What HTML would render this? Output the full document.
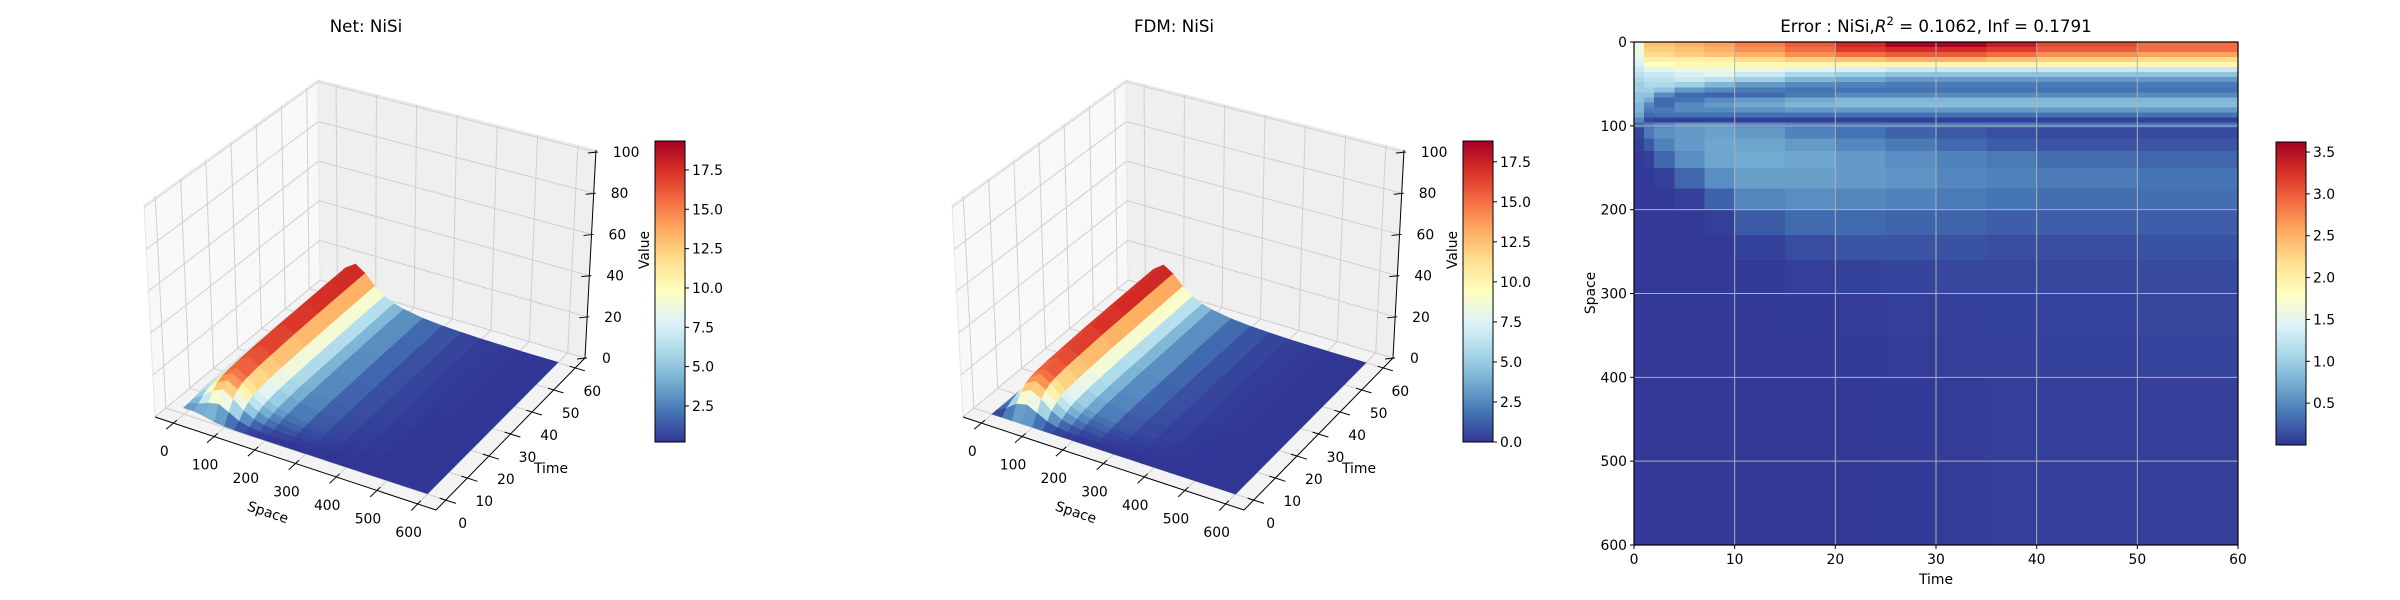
<!DOCTYPE html>
<html><head><meta charset="utf-8"><style>
html,body{margin:0;padding:0;background:#fff}
svg{display:block;font-family:"DejaVu Sans","Liberation Sans",sans-serif}
</style></head><body>
<svg id="fig" width="2400" height="600" viewBox="0 0 2400 600" xmlns="http://www.w3.org/2000/svg">
<rect width="2400" height="600" fill="#fff"/>
<defs>
<linearGradient id="cmapGrad" x1="0" y1="1" x2="0" y2="0">
<stop offset="0" stop-color="#313695"/><stop offset="0.1" stop-color="#4575b4"/><stop offset="0.2" stop-color="#74add1"/><stop offset="0.3" stop-color="#abd9e9"/><stop offset="0.4" stop-color="#e0f3f8"/><stop offset="0.5" stop-color="#ffffbf"/><stop offset="0.6" stop-color="#fee090"/><stop offset="0.7" stop-color="#fdae61"/><stop offset="0.8" stop-color="#f46d43"/><stop offset="0.9" stop-color="#d73027"/><stop offset="1" stop-color="#a50026"/>
</linearGradient>
</defs>
<g id="p1"></g>
<g id="p2"></g>
<g id="p3"></g>
</svg>
<script>
// ---------- data ----------
const spaceGrid = [0,25,50,75,100,125,150,175,200,250,300,350,400,450,500,550,600];
const timeGrid = [0,2,4,6,8,10,15,20,30,40,50,60];
const netValues = [
[3.0,3.0,2.2,1.0,0.5,0.3,0.2,0.2,0.2,0.2,0.2,0.2,0.2,0.2,0.2,0.2,0.2],
[3.2,4.5,6.5,7.5,5.0,2.5,1.2,0.6,0.4,0.3,0.2,0.2,0.2,0.2,0.2,0.2,0.2],
[3.5,6.5,10.4,12.5,9.5,5.5,3.0,1.8,1.1,0.6,0.4,0.3,0.2,0.2,0.2,0.2,0.2],
[4.0,7.8,12.5,15.0,12.0,7.5,4.5,2.8,1.8,0.9,0.5,0.35,0.25,0.2,0.2,0.2,0.2],
[4.5,8.5,13.6,16.4,13.4,8.8,5.5,3.6,2.4,1.2,0.7,0.45,0.3,0.25,0.2,0.2,0.2],
[4.8,8.8,14.1,17.0,14.0,9.4,6.2,4.1,2.9,1.5,0.85,0.5,0.35,0.25,0.2,0.2,0.2],
[5.0,9.2,14.7,17.8,14.7,10.0,6.8,4.6,3.3,1.8,1.0,0.6,0.4,0.3,0.22,0.2,0.2],
[5.2,9.4,15.0,18.1,15.0,10.3,7.0,4.9,3.5,2.0,1.1,0.7,0.45,0.3,0.23,0.2,0.2],
[5.3,9.7,15.5,18.7,15.5,10.7,7.3,5.0,3.7,2.1,1.2,0.75,0.48,0.33,0.24,0.2,0.2],
[5.4,9.8,15.7,19.0,15.7,10.8,7.4,5.1,3.7,2.15,1.25,0.78,0.5,0.34,0.25,0.2,0.2],
[5.5,9.9,15.9,19.2,15.9,10.9,7.5,5.2,3.8,2.2,1.3,0.8,0.5,0.35,0.25,0.2,0.2],
[5.5,10.0,16.0,19.3,16.0,11.0,7.5,5.2,3.8,2.2,1.3,0.8,0.5,0.35,0.25,0.2,0.2]];
const fdmValues = [
[0.0,0.0,0.0,0.0,0.0,0.0,0.0,0.0,0.0,0.0,0.0,0.0,0.0,0.0,0.0,0.0,0.0],
[0.0,2.5,6.0,7.2,4.8,2.3,1.0,0.5,0.3,0.1,0.0,0.0,0.0,0.0,0.0,0.0,0.0],
[0.0,3.8,9.8,12.2,9.3,5.3,2.8,1.6,0.9,0.4,0.2,0.1,0.0,0.0,0.0,0.0,0.0],
[0.0,4.6,11.9,14.7,11.8,7.3,4.3,2.6,1.6,0.7,0.3,0.15,0.05,0.0,0.0,0.0,0.0],
[0.0,5.1,13.0,16.1,13.2,8.6,5.3,3.4,2.2,1.0,0.5,0.25,0.1,0.05,0.0,0.0,0.0],
[0.0,5.3,13.5,16.7,13.8,9.2,6.0,3.9,2.7,1.3,0.65,0.3,0.15,0.05,0.0,0.0,0.0],
[0.0,5.5,14.1,17.4,14.5,9.8,6.6,4.4,3.1,1.6,0.8,0.4,0.2,0.1,0.02,0.0,0.0],
[0.0,5.6,14.4,17.7,14.8,10.1,6.8,4.7,3.3,1.8,0.9,0.5,0.25,0.1,0.03,0.0,0.0],
[0.0,5.8,14.9,18.2,15.3,10.5,7.1,4.8,3.5,1.9,1.0,0.55,0.28,0.13,0.04,0.0,0.0],
[0.0,5.9,15.1,18.5,15.5,10.6,7.2,4.9,3.5,1.95,1.05,0.58,0.3,0.14,0.05,0.0,0.0],
[0.0,6.0,15.3,18.7,15.7,10.7,7.3,5.0,3.6,2.0,1.1,0.6,0.3,0.15,0.05,0.0,0.0],
[0.0,6.0,15.4,18.8,15.8,10.8,7.3,5.0,3.6,2.0,1.1,0.6,0.3,0.15,0.05,0.0,0.0]];
const spaceTicks = [0,100,200,300,400,500,600];
const timeTicks = [0,10,20,30,40,50,60];
const valueTicks = [0,20,40,60,80,100];
const netCbarTicks = [2.5,5.0,7.5,10.0,12.5,15.0,17.5];
const fdmCbarTicks = [0.0,2.5,5.0,7.5,10.0,12.5,15.0,17.5];
const netRange = [0.21,19.34];
const fdmRange = [0.0,18.8];

const errTimeEdges = [0,1,2,4,7,10,15,20,25,30,35,40,50,60];
const errSpaceEdges = [0,6,12,18,24,30,36,42,48,54,60,66,72,78,84,90,96,102,115,130,150,175,200,230,260,300,350,400,600];
const errValues = [
[1.6,2.4,2.4,2.5,2.6,2.8,3.0,3.3,3.6,3.6,3.4,3.1,2.9],
[1.6,2.3,2.3,2.4,2.5,2.7,2.9,3.2,3.3,3.3,3.2,3.0,2.9],
[1.6,2.2,2.2,2.3,2.4,2.5,2.7,2.9,3.0,3.0,2.9,2.7,2.6],
[1.5,2.0,2.0,2.0,2.0,2.2,2.3,2.4,2.5,2.5,2.4,2.3,2.2],
[1.4,1.8,1.8,1.9,1.9,1.9,1.9,1.9,1.9,1.9,1.9,1.9,1.9],
[1.3,1.5,1.5,1.6,1.6,1.6,1.5,1.4,1.3,1.3,1.3,1.3,1.3],
[1.2,1.3,1.3,1.4,1.5,1.3,1.1,1.0,0.9,0.9,0.9,0.9,0.9],
[1.1,1.2,1.2,1.3,1.2,1.0,0.8,0.7,0.6,0.6,0.6,0.6,0.6],
[1.0,1.1,1.1,1.0,0.8,0.6,0.5,0.45,0.4,0.4,0.4,0.4,0.4],
[1.0,1.0,0.9,0.6,0.5,0.4,0.35,0.35,0.35,0.35,0.35,0.35,0.35],
[0.9,0.9,0.5,0.3,0.25,0.3,0.4,0.5,0.5,0.5,0.5,0.5,0.5],
[0.9,0.7,0.3,0.35,0.5,0.6,0.7,0.8,0.8,0.8,0.8,0.8,0.8],
[0.8,0.5,0.3,0.5,0.6,0.7,0.8,0.85,0.85,0.85,0.85,0.85,0.85],
[0.8,0.4,0.4,0.5,0.5,0.55,0.6,0.6,0.6,0.6,0.6,0.6,0.6],
[0.7,0.3,0.35,0.35,0.35,0.35,0.35,0.35,0.35,0.35,0.35,0.35,0.35],
[0.5,0.1,0.05,0.05,0.05,0.05,0.05,0.05,0.05,0.05,0.05,0.05,0.05],
[0.3,0.4,0.5,0.6,0.6,0.5,0.45,0.4,0.4,0.4,0.4,0.35,0.35],
[0.1,0.4,0.55,0.6,0.65,0.6,0.45,0.35,0.25,0.2,0.15,0.12,0.12],
[0.05,0.2,0.45,0.6,0.68,0.68,0.6,0.48,0.4,0.3,0.22,0.18,0.18],
[0.02,0.05,0.28,0.52,0.68,0.72,0.68,0.6,0.52,0.45,0.4,0.32,0.28],
[0.02,0.02,0.05,0.28,0.52,0.64,0.64,0.6,0.56,0.48,0.44,0.4,0.36],
[0.02,0.02,0.02,0.05,0.26,0.47,0.52,0.48,0.44,0.4,0.36,0.32,0.32],
[0.02,0.02,0.02,0.02,0.05,0.22,0.3,0.3,0.27,0.27,0.23,0.23,0.23],
[0.02,0.02,0.02,0.02,0.02,0.07,0.13,0.18,0.18,0.16,0.14,0.14,0.16],
[0.02,0.02,0.02,0.02,0.02,0.03,0.05,0.07,0.08,0.1,0.1,0.1,0.12],
[0.02,0.02,0.02,0.02,0.02,0.02,0.03,0.04,0.05,0.06,0.07,0.08,0.1],
[0.02,0.02,0.02,0.02,0.02,0.02,0.02,0.03,0.04,0.05,0.06,0.07,0.08],
[0.02,0.02,0.02,0.02,0.02,0.02,0.02,0.02,0.03,0.04,0.05,0.05,0.06]];
const errXTicks = [0,10,20,30,40,50,60];
const errYTicks = [0,100,200,300,400,500,600];
const errCbarTicks = [0.5,1.0,1.5,2.0,2.5,3.0,3.5];
const errRange = [0.0,3.62];

// ---------- helpers ----------
const NS = 'http://www.w3.org/2000/svg';
const STOPS = ['#313695','#4575b4','#74add1','#abd9e9','#e0f3f8','#ffffbf','#fee090','#fdae61','#f46d43','#d73027','#a50026'].map(h=>[parseInt(h.slice(1,3),16),parseInt(h.slice(3,5),16),parseInt(h.slice(5,7),16)]);
function cmap(x){
  x = Math.max(0, Math.min(1, x));
  const p = x*10, i = Math.min(9, Math.floor(p)), f = p - i;
  const a = STOPS[i], b = STOPS[i+1];
  return 'rgb(' + [0,1,2].map(k=>Math.round(a[k]+(b[k]-a[k])*f)).join(',') + ')';
}
function mk(tag, parent, attrs){
  const el = document.createElementNS(NS, tag);
  for (const k in attrs) el.setAttribute(k, attrs[k]);
  parent.appendChild(el);
  return el;
}

const SMIN=-45, SMAX=645, TMIN=-4.5, TMAX=64.5, ZMIN=0, ZMAX=101;
const PF = {p00:[155,417], p10:[436,510], p11:[585,358], p01:[320,280]};
const PT = {p00:[144,205], p10:[441,290], p11:[596,150], p01:[318,80]};
function bil(P,u,v,k){ return P.p00[k]*(1-u)*(1-v)+P.p10[k]*u*(1-v)+P.p11[k]*u*v+P.p01[k]*(1-u)*v; }
function proj(s,t,z,off){
  const u=(s-SMIN)/(SMAX-SMIN), v=(t-TMIN)/(TMAX-TMIN), w=(z-ZMIN)/(ZMAX-ZMIN);
  const fx=bil(PF,u,v,0), fy=bil(PF,u,v,1), tx=bil(PT,u,v,0), ty=bil(PT,u,v,1);
  return [off+fx+(tx-fx)*w, fy+(ty-fy)*w];
}
function pts(arr){ return arr.map(p=>p[0].toFixed(1)+','+p[1].toFixed(1)).join(' '); }

function drawPanel(g, off, title, Z, range, cbTicks){
  const tt = mk('text', g, {x: off+366, y: 32, 'text-anchor':'middle', 'font-size':16.7, fill:'#000'});
  
  
  tt.textContent = title;
  const panes = mk('g', g, {});
  
  
  const floor = mk('polygon', panes, {points: pts([proj(SMIN,TMIN,ZMIN,off),proj(SMAX,TMIN,ZMIN,off),proj(SMAX,TMAX,ZMIN,off),proj(SMIN,TMAX,ZMIN,off)]), fill:'#f3f3f3', stroke:'#e6e6e6'});
  
  
  const lw = mk('polygon', panes, {points: pts([proj(SMIN,TMIN,ZMIN,off),proj(SMIN,TMAX,ZMIN,off),proj(SMIN,TMAX,ZMAX,off),proj(SMIN,TMIN,ZMAX,off)]), fill:'#f8f8f8', stroke:'#e6e6e6'});
  
  
  const bw = mk('polygon', panes, {points: pts([proj(SMIN,TMAX,ZMIN,off),proj(SMAX,TMAX,ZMIN,off),proj(SMAX,TMAX,ZMAX,off),proj(SMIN,TMAX,ZMAX,off)]), fill:'#efefef', stroke:'#e6e6e6'});
  
  
  const grid = mk('g', g, {stroke:'#cfcfcf', 'stroke-width':1, fill:'none'});
  
  
  spaceTicks.forEach(s=>{
    mk('polyline', grid, {points: pts([proj(s,TMIN,ZMIN,off),proj(s,TMAX,ZMIN,off),proj(s,TMAX,ZMAX,off)])});
  });
  timeTicks.forEach(t=>{
    mk('polyline', grid, {points: pts([proj(SMAX,t,ZMIN,off),proj(SMIN,t,ZMIN,off),proj(SMIN,t,ZMAX,off)])});
  });
  valueTicks.forEach(z=>{
    mk('polyline', grid, {points: pts([proj(SMIN,TMIN,z,off),proj(SMIN,TMAX,z,off),proj(SMAX,TMAX,z,off)])});
  });
  const surf = mk('g', g, {});
  
  
  const quads = [];
  for (let i=0;i<timeGrid.length-1;i++){
    for (let j=0;j<spaceGrid.length-1;j++){
      const c = [[spaceGrid[j],timeGrid[i],Z[i][j]],[spaceGrid[j+1],timeGrid[i],Z[i][j+1]],[spaceGrid[j+1],timeGrid[i+1],Z[i+1][j+1]],[spaceGrid[j],timeGrid[i+1],Z[i+1][j]]];
      const avg = (Z[i][j]+Z[i][j+1]+Z[i+1][j+1]+Z[i+1][j])/4;
      const sm=(spaceGrid[j]+spaceGrid[j+1])/2, tm=(timeGrid[i]+timeGrid[i+1])/2;
      const depth = (tm-TMIN)/(TMAX-TMIN) - (sm-SMIN)/(SMAX-SMIN);
      quads.push({c, avg, depth});
    }
  }
  quads.sort((a,b)=>b.depth-a.depth);
  quads.forEach(q=>{
    const col = cmap((q.avg-range[0])/(range[1]-range[0]));
    const poly = mk('polygon', surf, {points: pts(q.c.map(p=>proj(p[0],p[1],p[2],off))), fill: col, stroke: col, 'stroke-width':0.6});
    
    
  });
  const ax = mk('g', g, {stroke:'#000', 'stroke-width':1, fill:'none'});
  
  
  mk('polyline', ax, {points: pts([proj(SMIN,TMIN,ZMIN,off),proj(SMAX,TMIN,ZMIN,off),proj(SMAX,TMAX,ZMIN,off)])});
  mk('polyline', ax, {points: pts([proj(SMAX,TMAX,ZMIN,off),proj(SMAX,TMAX,ZMAX,off)])});
  const lab = mk('g', g, {'font-size':13.9, fill:'#000'});
  
  
  spaceTicks.forEach(s=>{
    mk('polyline', ax, {points: pts([proj(s,TMIN+1.5,ZMIN,off),proj(s,TMIN-3,ZMIN,off)])});
    const p = proj(s,TMIN,ZMIN,off);
    const t = mk('text', lab, {x:p[0]-9, y:p[1]+33, 'text-anchor':'middle'});
    
    
    t.textContent = s;
  });
  timeTicks.forEach(tv=>{
    mk('polyline', ax, {points: pts([proj(SMAX-15,tv,ZMIN,off),proj(SMAX+25,tv,ZMIN,off)])});
    const p = proj(SMAX,tv,ZMIN,off);
    const t = mk('text', lab, {x:p[0]+17, y:p[1]+28, 'text-anchor':'middle'});
    
    
    t.textContent = tv;
  });
  valueTicks.forEach(z=>{
    const p = proj(SMAX,TMAX,z,off);
    mk('line', ax, {x1:p[0]-8, y1:p[1]+1, x2:p[0]+2, y2:p[1]});
    const t = mk('text', lab, {x:p[0]+17, y:p[1]+5, 'text-anchor':'start'});
    
    
    t.textContent = z;
  });
  const sl = mk('text', g, {x:off+268, y:517, 'text-anchor':'middle', 'font-size':13.9, transform:'rotate(18.3 '+(off+268)+' 512)'});
  
  
  sl.textContent = 'Space';
  const tl = mk('text', g, {x:off+551, y:473, 'text-anchor':'middle', 'font-size':13.9});
  
  
  tl.textContent = 'Time';
  const vl = mk('text', g, {x:off+644, y:255, 'text-anchor':'middle', 'font-size':13.9, transform:'rotate(-90 '+(off+644)+' 250)'});
  
  
  vl.textContent = 'Value';
  drawColorbar(g, off+655, 141, 30, 301, range, cbTicks, 'surface-colorbar');
}

function drawColorbar(g, x, y, w, h, range, ticks, name){
  const cb = mk('g', g, {});
  
  
  mk('rect', cb, {x, y, width:w, height:h, fill:'url(#cmapGrad)', stroke:'#000', 'stroke-width':1});
  ticks.forEach(v=>{
    const ty = y + h - (v-range[0])/(range[1]-range[0])*h;
    mk('line', cb, {x1:x+w, y1:ty, x2:x+w+4, y2:ty, stroke:'#000'});
    const t = mk('text', cb, {x:x+w+7, y:ty+5, 'font-size':13.9, fill:'#000'});
    
    
    t.textContent = v.toFixed(1);
  });
}

drawPanel(document.getElementById('p1'), 0, 'Net: NiSi', netValues, netRange, netCbarTicks);
drawPanel(document.getElementById('p2'), 808, 'FDM: NiSi', fdmValues, fdmRange, fdmCbarTicks);

(function(){
  const g = document.getElementById('p3');
  const X0=1634, X1=2238, Y0=42, Y1=545;
  const xs = t => X0 + t/60*(X1-X0);
  const ys = s => Y0 + s/600*(Y1-Y0);
  const cells = mk('g', g, {'shape-rendering':'crispEdges'});
  
  
  for (let r=0;r<errSpaceEdges.length-1;r++){
    for (let c=0;c<errTimeEdges.length-1;c++){
      const x=xs(errTimeEdges[c]), y=ys(errSpaceEdges[r]);
      const col = cmap((errValues[r][c]-errRange[0])/(errRange[1]-errRange[0]));
      const rc = mk('rect', cells, {x:x, y:y, width:xs(errTimeEdges[c+1])-x+0.5, height:ys(errSpaceEdges[r+1])-y+0.5, fill:col});
      
      
    }
  }
  const grid = mk('g', g, {stroke:'#b0b0b0', 'stroke-width':1});
  
  
  errXTicks.forEach(t=>mk('line', grid, {x1:xs(t), y1:Y0, x2:xs(t), y2:Y1}));
  errYTicks.forEach(s=>mk('line', grid, {x1:X0, y1:ys(s), x2:X1, y2:ys(s)}));
  const frame = mk('rect', g, {x:X0, y:Y0, width:X1-X0, height:Y1-Y0, fill:'none', stroke:'#000', 'stroke-width':1.2});
  
  
  const lab = mk('g', g, {'font-size':13.9, fill:'#000'});
  
  
  errXTicks.forEach(t=>{
    mk('line', g, {x1:xs(t), y1:Y1, x2:xs(t), y2:Y1+4, stroke:'#000'});
    const el = mk('text', lab, {x:xs(t), y:Y1+19, 'text-anchor':'middle'});
    
    
    el.textContent = t;
  });
  errYTicks.forEach(s=>{
    mk('line', g, {x1:X0-4, y1:ys(s), x2:X0, y2:ys(s), stroke:'#000'});
    const el = mk('text', lab, {x:X0-7, y:ys(s)+5, 'text-anchor':'end'});
    
    
    el.textContent = s;
  });
  const xl = mk('text', g, {x:(X0+X1)/2, y:584, 'text-anchor':'middle', 'font-size':13.9});
  
  
  xl.textContent = 'Time';
  const yl = mk('text', g, {x:1590, y:298, 'text-anchor':'middle', 'font-size':13.9, transform:'rotate(-90 1590 293)'});
  
  
  yl.textContent = 'Space';
  const title = mk('text', g, {x:(X0+X1)/2, y:32, 'text-anchor':'middle', 'font-size':16.7});
  
  
  title.innerHTML = 'Error : NiSi,<tspan font-style="italic">R</tspan><tspan dy="-7" font-size="11.5">2</tspan><tspan dy="7"> = 0.1062, Inf = 0.1791</tspan>';
  drawColorbar(g, 2276, 142, 30, 303, errRange, errCbarTicks, 'heatmap-colorbar');
})();
</script>
</body></html>
